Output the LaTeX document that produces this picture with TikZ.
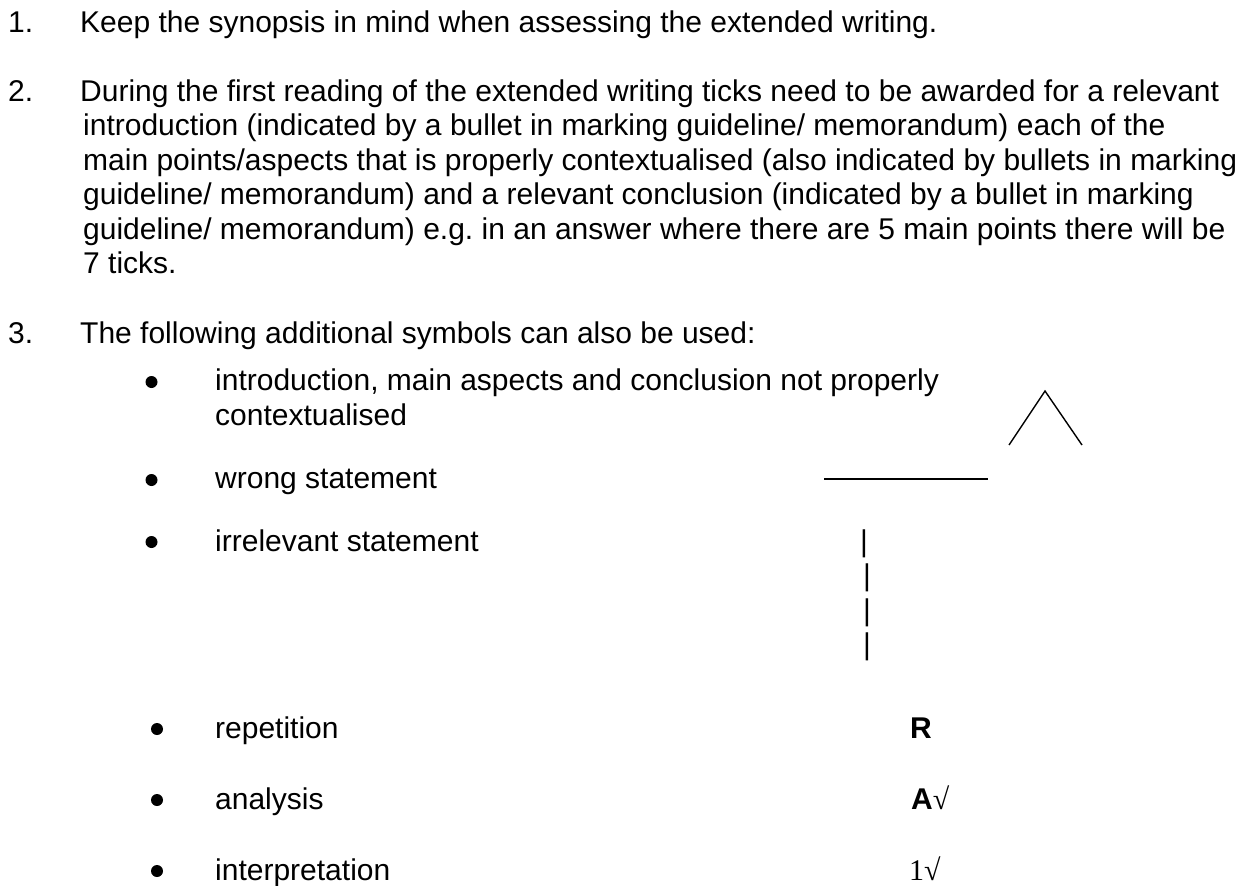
\documentclass[tikz,border=0pt]{standalone}
\usepackage{fontspec}
\setmainfont{Liberation Sans}
\newfontfamily\serifnum{Liberation Serif}
\frenchspacing
\begin{document}
\begin{tikzpicture}[x=1pt,y=-1pt,
  txt/.style={anchor=base west, inner sep=0pt, font=\fontsize{30}{34.5}\selectfont},
  bul/.style={circle, fill=black, draw=none, inner sep=0pt, minimum size=12pt},
  symline/.style={line width=1.4pt, line cap=butt, line join=miter}]
\useasboundingbox (0,0) rectangle (1248,886);
\fill[white] (0,0) rectangle (1248,886);
% Item 1
\node[txt] (n1) at (8,32) {1.};
\node[txt] (t1) at (80,32) {Keep the synopsis in mind when assessing the extended writing.};
% Item 2
\node[txt] (n2) at (8,101) {2.};
\node[txt] (t2a) at (80,101) {During the first reading of the extended writing ticks need to be awarded for a relevant};
\node[txt] (t2b) at (83,135.5) {introduction (indicated by a bullet in marking guideline/ memorandum) each of the};
\node[txt] (t2c) at (83,170) {main points/aspects that is properly contextualised (also indicated by bullets in marking};
\node[txt] (t2d) at (83,204.5) {guideline/ memorandum) and a relevant conclusion (indicated by a bullet in marking};
\node[txt] (t2e) at (83,239) {guideline/ memorandum) e.g.\ in an answer where there are 5 main points there will be};
\node[txt] (t2f) at (83,273.5) {7 ticks.};
% Item 3
\node[txt] (n3) at (8,343) {3.};
\node[txt] (t3) at (80,343) {The following additional symbols can also be used:};
% bullets
\node[bul] (b1) at (151.5,382) {};
\node[txt] (s1a) at (215,390) {introduction, main aspects and conclusion not properly};
\node[txt] (s1b) at (215,425) {contextualised};
\node[bul] (b2) at (151.5,480) {};
\node[txt] (s2) at (215,488) {wrong statement};
\node[bul] (b3) at (151.5,542) {};
\node[txt] (s3) at (215,551) {irrelevant statement};
\node[bul] (b4) at (157,729) {};
\node[txt] (s4) at (215,738) {repetition};
\node[bul] (b5) at (157,800) {};
\node[txt] (s5) at (215,809) {analysis};
\node[bul] (b6) at (157,871) {};
\node[txt] (s6) at (215,880) {interpretation};
% symbols
\coordinate (tl) at (1009,445);
\coordinate (tt) at (1045,391);
\coordinate (tr) at (1082,445);
\draw[symline] (tl) -- (tt) -- (tr);
\coordinate (hl) at (824,479);
\coordinate (hr) at (988,479);
\draw[symline] (hl) -- (hr);
\node[txt] (v1) at (860,551) {|};
\node[txt] (v2) at (863,585.5) {|};
\node[txt] (v3) at (863,620) {|};
\node[txt] (v4) at (863,654.5) {|};
\node[txt] (r) at (910,738) {\bfseries R};
\node[txt] (a) at (911,809) {\bfseries A{\mdseries\serifnum √}};
\node[txt] (i) at (909,880) {\serifnum 1√};
\end{tikzpicture}
\end{document}
